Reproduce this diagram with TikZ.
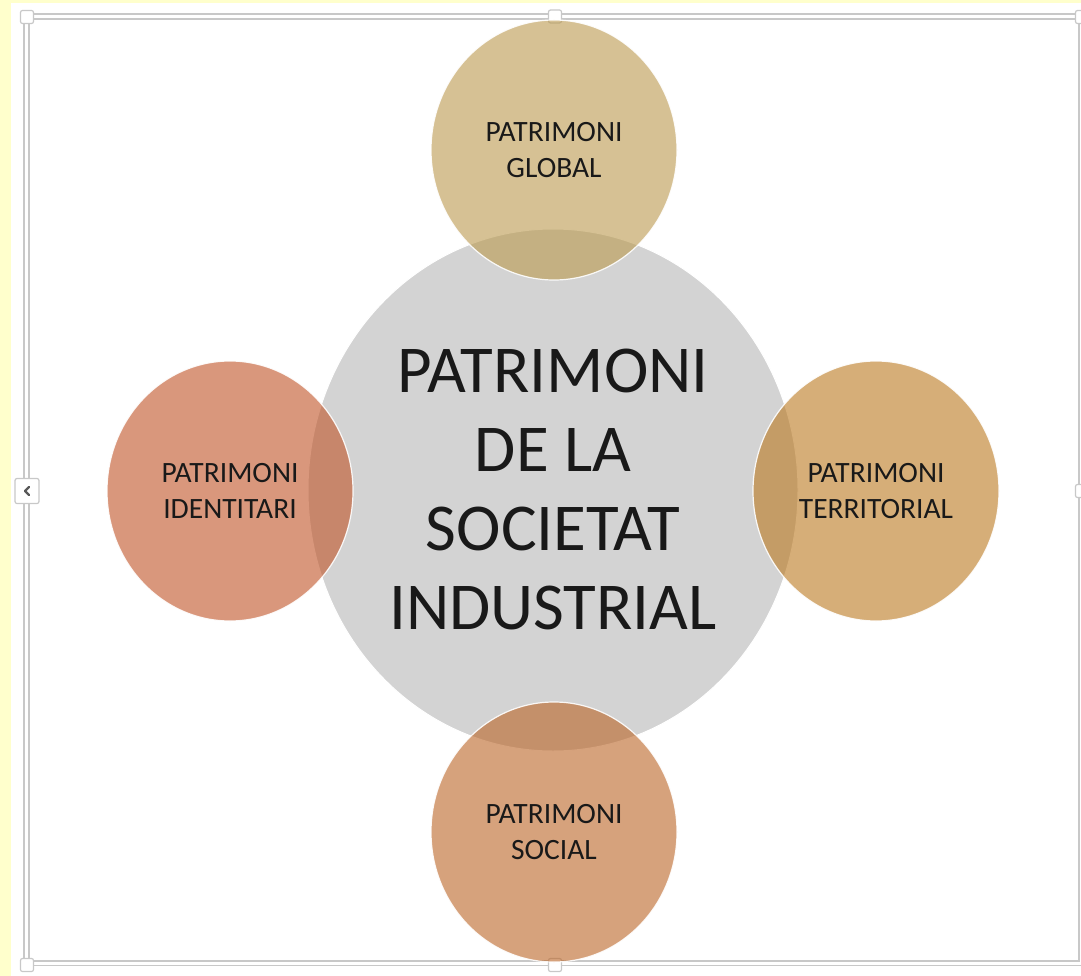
\documentclass[tikz,border=0pt]{standalone}
\usepackage{fontspec}
\setmainfont{Carlito}
\usetikzlibrary{shapes.geometric}
\definecolor{bgyellow}{RGB}{255,255,204}
\definecolor{framegrey}{RGB}{200,200,200}
\definecolor{coregrey}{RGB}{211,211,211}
\definecolor{cglobal}{RGB}{187,153,77}
\definecolor{cident}{RGB}{192,83,38}
\definecolor{cterr}{RGB}{187,120,30}
\definecolor{csocial}{RGB}{187,100,37}
\definecolor{txt}{RGB}{25,25,25}
\tikzset{
  core/.style={ellipse, minimum width=490pt, minimum height=522pt, inner sep=0pt,
    fill=coregrey, draw=white, line width=1pt, text=txt, align=center,
    font=\fontsize{67}{79}\selectfont},
  sat/.style={ellipse, minimum width=246pt, minimum height=260pt, inner sep=0pt,
    fill=#1, fill opacity=0.6, text opacity=1, draw=white, draw opacity=0.9,
    line width=1.2pt, text=txt, align=center, font=\fontsize{29.5}{36}\selectfont},
  handle/.style={rectangle, rounded corners=2pt, minimum width=13pt, minimum height=13pt,
    inner sep=0pt, fill=white, draw=framegrey, line width=1.2pt},
  framebox/.style={draw=framegrey, line width=1.5pt}
}
\begin{document}
\begin{tikzpicture}[x=1pt,y=-1pt]
\useasboundingbox (0,0) rectangle (1081,976);
\fill[bgyellow] (0,0) rectangle (1081,976);
\fill[white] (11,3) rectangle (1081,976);
% frame
\draw[framebox] (24,14) rectangle (1090,965.5);
\draw[framebox] (28.8,18.8) rectangle (1079,961);
% handles
\node[handle] (htl) at (27,17) {};
\node[handle] (htm) at (555,16.5) {};
\node[handle] (htr) at (1082,17) {};
\node[handle] (hbl) at (27,965) {};
\node[handle] (hbm) at (555,965) {};
\node[handle] (hrm) at (1082,491) {};
\node[handle, minimum width=24pt, minimum height=25pt] (hlm) at (27,491) {};
\draw[gray!70!black, line width=2.2pt, line cap=round, line join=round]
  ([xshift=2pt,yshift=4pt]hlm.center) -- ([xshift=-2pt]hlm.center) -- ([xshift=2pt,yshift=-4pt]hlm.center);
% central
\node[core] (core) at (553,490) {PATRIMONI\\DE LA\\SOCIETAT\\INDUSTRIAL};
% satellites
\node[sat=cglobal] (global) at (554,150) {PATRIMONI\\GLOBAL};
\node[sat=cident] (ident) at (230,491) {PATRIMONI\\IDENTITARI};
\node[sat=cterr] (terr) at (876,491) {PATRIMONI\\TERRITORIAL};
\node[sat=csocial] (social) at (554,832) {PATRIMONI\\SOCIAL};
\end{tikzpicture}
\end{document}
